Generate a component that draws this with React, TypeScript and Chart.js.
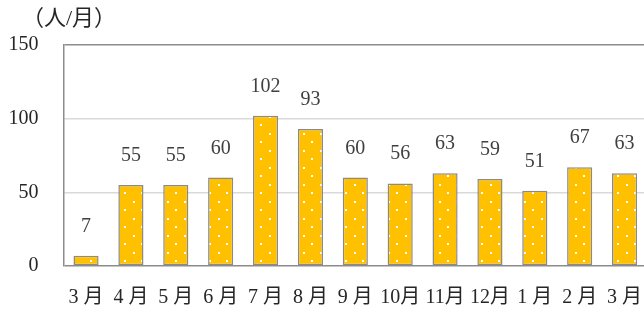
import React, { useEffect, useRef } from "react";
import { Chart, registerables } from "chart.js";

Chart.register(...registerables);

const categories = ["3 月", "4 月", "5 月", "6 月", "7 月", "8 月", "9 月", "10月", "11月", "12月", "1 月", "2 月", "3 月"];
const values = [7, 55, 55, 60, 102, 93, 60, 56, 63, 59, 51, 67, 63];
const yTicks = [0, 50, 100, 150];
const unitLabel = "（人/月）";

const FONT = '"Liberation Serif", "Noto Sans CJK JP", serif';

function makePattern(): CanvasPattern | string {
  const c = document.createElement("canvas");
  c.width = 17;
  c.height = 17;
  const ctx = c.getContext("2d");
  if (!ctx) return "#FFC000";
  ctx.fillStyle = "#FFC000";
  ctx.fillRect(0, 0, 17, 17);
  ctx.fillStyle = "#ffffff";
  ctx.fillRect(5, 5, 2, 2);
  ctx.fillRect(14, 14, 2, 2);
  const p = ctx.createPattern(c, "repeat");
  return p || "#FFC000";
}

export default function App() {
  const ref = useRef<HTMLCanvasElement | null>(null);
  useEffect(() => {
    if (!ref.current) return;
    const labelPlugin = {
      id: "labels",
      afterDatasetsDraw(chart: any) {
        const ctx = chart.ctx;
        const meta = chart.getDatasetMeta(0);
        ctx.save();
        ctx.font = `20px ${FONT}`;
        ctx.fillStyle = "#404040";
        ctx.textAlign = "center";
        ctx.textBaseline = "alphabetic";
        meta.data.forEach((bar: any, i: number) => {
          ctx.fillText(String(values[i]), bar.x, bar.y - 24);
        });
        ctx.font = `22px ${FONT}`;
        ctx.textAlign = "left";
        ctx.textBaseline = "middle";
        ctx.fillStyle = "#262626";
        ctx.fillText(unitLabel, 22, 19);
        ctx.restore();
      },
    };
    const chart = new Chart(ref.current, {
      type: "bar",
      data: {
        labels: categories,
        datasets: [
          {
            data: values,
            backgroundColor: makePattern() as any,
            borderColor: "#8a8a8a",
            borderWidth: 1.5,
            borderSkipped: false,
            barPercentage: 0.56,
            categoryPercentage: 1,
          },
        ],
      },
      options: {
        animation: false,
        responsive: false,
        events: [],
        layout: { padding: { top: 45, right: 3, left: 0, bottom: 0 } },
        plugins: { legend: { display: false }, tooltip: { enabled: false } },
        scales: {
          x: {
            grid: { display: false, drawTicks: false },
            border: { display: false },
            ticks: { font: { family: FONT, size: 20 }, color: "#262626", padding: 20, maxRotation: 0, autoSkip: false },
            afterFit(scale: any) {
              scale.height = 45;
              scale.paddingLeft = 0;
              scale.paddingRight = 0;
            },
          },
          y: {
            min: 0,
            max: 150,
            afterBuildTicks(scale: any) {
              scale.ticks = yTicks.map((v) => ({ value: v }));
            },
            grid: {
              drawTicks: false,
              color: (c: any) => (c.tick && (c.tick.value === 0 || c.tick.value === 150) ? "#8c8c8c" : "#d9d9d9"),
              lineWidth: 1.5,
            },
            border: { display: true, color: "#8c8c8c", width: 1.5 },
            ticks: { font: { family: FONT, size: 20 }, color: "#262626", padding: 25 },
            afterFit(scale: any) {
              scale.width = 63.6;
              scale.paddingTop = 0;
              scale.paddingBottom = 0;
            },
          },
        },
      },
      plugins: [labelPlugin],
    });
    return () => chart.destroy();
  }, []);
  return (
    <div style={{ position: "fixed", left: 0, top: 0, width: 644, height: 311, overflow: "hidden", background: "#fff" }}>
      <canvas ref={ref} width={650} height={311} style={{ display: "block" }} />
    </div>
  );
}
